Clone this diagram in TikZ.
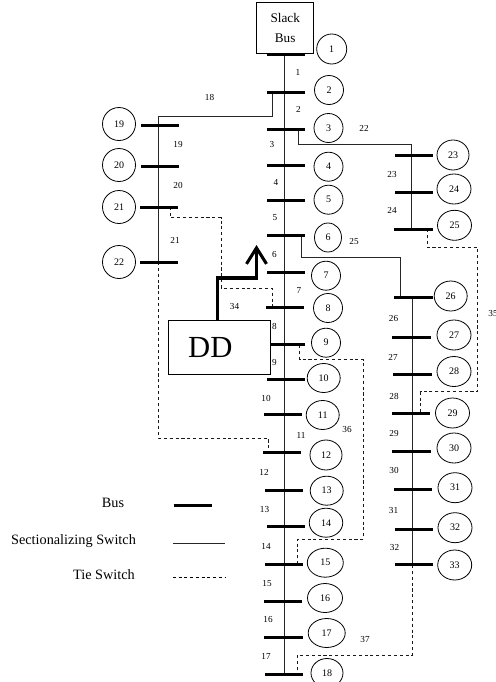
\documentclass[tikz,border=0pt]{standalone}
\usepackage{fontspec}
\setmainfont{Liberation Serif}
\usetikzlibrary{shapes.geometric,arrows.meta}
\tikzset{
  busbar/.style={fill=black,draw=none,inner sep=0pt,outer sep=0pt,minimum height=2.25pt},
  bubble/.style={ellipse,draw=black,line width=0.6pt,fill=white,inner sep=0pt,outer sep=0pt,font=\fontsize{7.5}{8}\selectfont},
  lbl/.style={inner sep=0pt,font=\fontsize{6.9}{8}\selectfont},
  sw/.style={draw=black!85,line width=0.7pt},
  tie/.style={draw=black!90,line width=0.6pt,dash pattern=on 2.3pt off 2.1pt},
  legend/.style={inner sep=0pt,font=\fontsize{10.7}{12}\selectfont},
  boxed/.style={draw=black,line width=0.75pt,fill=white,inner sep=0pt,outer sep=0pt},
}
\newcommand{\bus}[4]{\pgfmathsetmacro{\bw}{(#3-#2)*0.75}\pgfmathsetmacro{\bc}{(#3+#2)/2}\pgfmathsetmacro{\by}{floor(#4)+0.5}\node[busbar,minimum width=\bw pt] (#1) at (\bc,\by) {};}
\newcommand{\bub}[5]{\pgfmathsetmacro{\ew}{#3*0.75}\pgfmathsetmacro{\eh}{#4*0.75}\node[bubble,minimum width=\ew pt,minimum height=\eh pt] (n#5) at (#1,#2) {#5};}
\newcommand{\lab}[3]{\node[lbl] (l#3) at (#1,#2) {#3};}
\begin{document}
\begin{tikzpicture}[x=0.75pt,y=-0.75pt]
\useasboundingbox (0,0) rectangle (496,682);
% wiring anchors
\coordinate (mt) at (284,54); \coordinate (mb) at (284,674);
\coordinate (lt) at (158,116.5); \coordinate (lb) at (158,262);
\coordinate (rt) at (411,144); \coordinate (rb) at (411,229);
\coordinate (st) at (412,297.5); \coordinate (sb) at (412,565);
\coordinate (t18) at (272,92.5); \coordinate (t22) at (298,129);
\coordinate (t25) at (301,236); \coordinate (e25) at (400,257); \coordinate (e25b) at (400,297.5);
\coordinate (e33) at (412,655.5); \coordinate (e18) at (297,655.5); \coordinate (e18b) at (297,674);
\coordinate (a1) at (158,438); \coordinate (a2) at (268,438); \coordinate (a3) at (268,453);
\coordinate (c1) at (170,207); \coordinate (c2) at (170,217.5); \coordinate (c3) at (221,217.5); \coordinate (c4) at (221,288); \coordinate (c5) at (272,288); \coordinate (c6) at (272,307);
\coordinate (d1) at (299.5,345); \coordinate (d2) at (299.5,359.5); \coordinate (d3) at (363.5,359.5); \coordinate (d4) at (363.5,539); \coordinate (d5) at (297.5,539); \coordinate (d6) at (297.5,564);
\coordinate (f1) at (427.5,229); \coordinate (f2) at (427.5,247.5); \coordinate (f3) at (477.7,247.5); \coordinate (f4) at (477.7,391.7); \coordinate (f5) at (420.7,391.7); \coordinate (f6) at (420.7,413);
% switches
\draw[sw] (mt) -- (mb);
\draw[sw] (t18) -- (t18 |- lt) -- (lt) -- (lb);
\draw[sw] (t22) -- (t22 |- rt) -- (rt) -- (rb);
\draw[sw] (t25) -- (t25 |- e25) -- (e25) -- (e25b);
\draw[sw] (st) -- (sb);
% tie switches
\draw[tie] (lb) -- (a1) -- (a2) -- (a3);
\draw[tie] (c1) -- (c2) -- (c3) -- (c4) -- (c5) -- (c6);
\draw[tie] (d1) -- (d2) -- (d3) -- (d4) -- (d5) -- (d6);
\draw[tie] (f1) -- (f2) -- (f3) -- (f4) -- (f5) -- (f6);
\draw[tie] (sb) -- (e33) -- (e18) -- (e18b);
% buses
\bus{b1}{267}{305}{54}
\bus{b2}{267}{305}{92.7}
\bus{b3}{267}{305}{129.3}
\bus{b4}{267}{305}{165}
\bus{b5}{267}{305}{200.7}
\bus{b6}{267}{305}{235.7}
\bus{b7}{267}{305}{272}
\bus{b8}{266}{304}{307.3}
\bus{b9}{267}{305}{344.7}
\bus{b10}{267}{305}{379.7}
\bus{b11}{263.5}{301.5}{414.7}
\bus{b12}{263}{301}{452.7}
\bus{b13}{265}{303}{490}
\bus{b14}{267}{305}{526.3}
\bus{b15}{265}{303}{564}
\bus{b16}{264}{302}{601}
\bus{b17}{264}{303}{637}
\bus{b18}{265}{303}{674}
\bus{b19}{140.7}{179}{125.7}
\bus{b20}{140.7}{179}{166.3}
\bus{b21}{140}{178}{207}
\bus{b22}{140}{178}{262}
\bus{b23}{395}{433}{155.7}
\bus{b24}{395}{433}{192.7}
\bus{b25}{394}{433}{229}
\bus{b26}{394}{433}{297.7}
\bus{b27}{392}{430.5}{337.5}
\bus{b28}{393}{432}{374.7}
\bus{b29}{392}{430}{413.3}
\bus{b30}{392}{430.5}{451.3}
\bus{b31}{394}{432}{489}
\bus{b32}{394.5}{432.5}{529}
\bus{b33}{395}{433}{564.7}
% boxes
\node[boxed,minimum width=42.75pt,minimum height=38pt,align=center,font=\fontsize{9.9}{15}\selectfont] (slack) at (285.2,27.7) {Slack\\Bus};
\node[boxed,minimum width=76.5pt,minimum height=40.2pt,font=\fontsize{23}{25}\selectfont,text depth=0pt] (dd) at (219.7,347.5) {\hspace*{-14pt}DD};
\coordinate (ar1) at (217.5,320.7); \coordinate (ar2) at (217.5,278); \coordinate (ar3) at (256.5,278); \coordinate (ar4) at (256.5,245);
\draw[line width=2.3pt,-{Straight Barb[length=12pt,width=15pt,line width=2.3pt]}] (ar1) -- (ar2) -- (ar3) -- (ar4);
% bubbles
\bub{331.7}{49}{30}{30}{1}
\bub{329}{90}{29}{29}{2}
\bub{328.5}{128}{29}{29}{3}
\bub{328.5}{166.7}{29}{29}{4}
\bub{328.5}{199.7}{29}{29}{5}
\bub{328}{237.5}{27}{29}{6}
\bub{326}{275.7}{29}{29}{7}
\bub{328}{308}{29}{29}{8}
\bub{326}{342.7}{29}{29}{9}
\bub{323.7}{378}{33}{29}{10}
\bub{322.7}{415}{33}{29}{11}
\bub{326}{455}{32}{30}{12}
\bub{326.7}{490.7}{33}{29}{13}
\bub{326}{522.7}{33.5}{29}{14}
\bub{325.3}{562.7}{36}{29}{15}
\bub{325}{598}{35}{29}{16}
\bub{326.7}{633}{37}{29}{17}
\bub{327}{673}{32}{29}{18}
\bub{119}{124}{33}{33}{19}
\bub{119}{165}{33}{33}{20}
\bub{119}{207}{33}{33}{21}
\bub{119}{262}{33}{33}{22}
\bub{453}{155}{32}{30}{23}
\bub{454}{189}{34}{30}{24}
\bub{454.5}{225.3}{34}{30}{25}
\bub{450.7}{296}{33}{30}{26}
\bub{454}{335}{34}{30}{27}
\bub{454}{371.5}{34}{30}{28}
\bub{452.5}{413}{34}{30}{29}
\bub{454}{448}{34}{30}{30}
\bub{455}{487.7}{34}{30}{31}
\bub{455}{527.7}{34}{30}{32}
\bub{454.7}{565}{34}{30}{33}
% labels
\lab{298}{72}{1}\lab{298.5}{109}{2}\lab{272}{144}{3}\lab{276}{182}{4}\lab{275}{218}{5}
\lab{274.5}{254}{6}\lab{299}{290}{7}\lab{274.5}{326}{8}\lab{274.5}{362}{9}\lab{266}{398}{10}
\lab{301}{435}{11}\lab{264}{472}{12}\lab{264.5}{509}{13}\lab{266}{546}{14}\lab{267}{583}{15}
\lab{268}{619.5}{16}\lab{266}{656}{17}\lab{209.5}{97}{18}\lab{178}{144}{19}\lab{178}{185}{20}
\lab{175}{240}{21}\lab{364}{128.5}{22}\lab{392}{174}{23}\lab{392}{210}{24}\lab{354}{241}{25}
\lab{393.5}{318}{26}\lab{393}{357}{27}\lab{394}{396}{28}\lab{394}{433}{29}\lab{394}{470}{30}
\lab{393.5}{510}{31}\lab{394.5}{547}{32}\lab{234.5}{306}{34}\lab{493}{313.5}{35}\lab{347}{429.5}{36}\lab{365}{639}{37}
% legend
\node[legend] (kb) at (113,503) {Bus};
\node[legend] (ks) at (73.5,541.5) {Sectionalizing Switch};
\node[legend] (kt) at (104,574.5) {Tie Switch};
\coordinate (k1) at (173.5,505.5); \coordinate (k2) at (212,505.5);
\coordinate (k3) at (173,543); \coordinate (k4) at (225,543);
\coordinate (k5) at (173,577); \coordinate (k6) at (225,577);
\draw[line width=2.25pt] (k1) -- (k2);
\draw[sw] (k3) -- (k4);
\draw[line width=0.6pt,dash pattern=on 2.2pt off 2.1pt] (k5) -- (k6);
\end{tikzpicture}
\end{document}
